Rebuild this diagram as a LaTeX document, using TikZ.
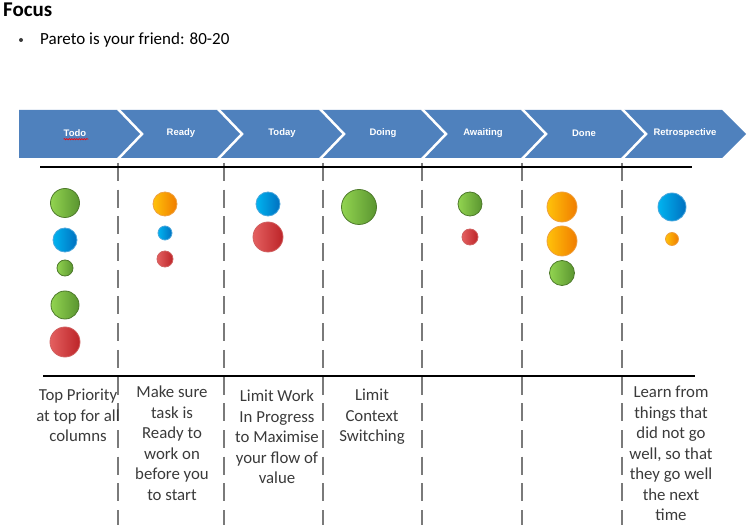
\documentclass[tikz,border=0pt]{standalone}
\usepackage{fontspec}
\setmainfont{Carlito}
\newfontfamily\arialfont{Liberation Sans}
\usetikzlibrary{decorations.pathmorphing}
\definecolor{banner}{HTML}{4F81BD}
\definecolor{sepgray}{HTML}{7A7A7A}
\definecolor{txtgray}{HTML}{3A3A3A}
\definecolor{gl}{HTML}{92D450}
\definecolor{gd}{HTML}{5A9530}
\definecolor{gb}{HTML}{4E7A2B}
\definecolor{bl}{HTML}{00B4F0}
\definecolor{bd}{HTML}{0070C0}
\definecolor{bb}{HTML}{4AA6DC}
\definecolor{rl}{HTML}{E46060}
\definecolor{rd}{HTML}{BC2428}
\definecolor{rb}{HTML}{D06060}
\definecolor{ol}{HTML}{FFC20A}
\definecolor{od}{HTML}{F07C00}
\definecolor{ob}{HTML}{EFA040}
\begin{document}
\begin{tikzpicture}[x=1pt,y=-1pt,
  ballbase/.style={circle,inner sep=0pt,line width=0.8pt},
  gball/.style={ballbase,draw=gb,left color=gl,right color=gd},
  bball/.style={ballbase,draw=bb,left color=bl,right color=bd},
  rball/.style={ballbase,draw=rb,left color=rl,right color=rd},
  oball/.style={ballbase,draw=ob,left color=ol,right color=od},
  stagelabel/.style={text=white,font=\arialfont\bfseries\fontsize{9.5}{11}\selectfont,inner sep=0pt},
  sepline/.style={draw=sepgray,line width=2.5pt,dash pattern=on 18pt off 8.7pt},
  rule/.style={draw=black,line width=2.2pt},
  note/.style={text=txtgray,align=center,inner sep=0pt,anchor=north,font=\fontsize{16.8}{20.5}\selectfont},
  chevsep/.style={draw=white,line width=2.5pt}
]
\useasboundingbox (0,0) rectangle (750,529);
% title
\node[anchor=base west,inner sep=0pt,font=\bfseries\fontsize{21}{24}\selectfont] (title) at (3,17) {Focus};
\node[circle,fill=txtgray,inner sep=0pt,minimum size=4pt] (bullet) at (21,40) {};
\node[anchor=base west,inner sep=0pt,font=\fontsize{17}{20}\selectfont] (pareto) at (40,45) {Pareto is your friend: 80-20};
% banner
\fill[banner] (19,110) -- (722,110) -- (746,134) -- (722,158) -- (19,158) -- cycle;
\foreach \b in {118,218,320,422,522,622}{
  \draw[chevsep] (\b,109) -- (\b+24,134) -- (\b,159);
}
\node[stagelabel] (s1) at (75,133) {Todo};
\node[stagelabel] (s2) at (181,133) {Ready};
\node[stagelabel] (s3) at (282,133) {Today};
\node[stagelabel] (s4) at (383,133) {Doing};
\node[stagelabel] (s5) at (483,133) {Awaiting};
\node[stagelabel] (s6) at (584,133) {Done};
\node[stagelabel] (s7) at (685,133) {Retrospective};
\draw[red,line width=0.6pt,decorate,decoration={snake,segment length=2.5pt,amplitude=0.7pt}] (s1.south west)++(0,2.5) -- ++(25,0);
% column separators
\foreach \x in {118,224,323,422,522,622}{
  \draw[sepline] (\x,163) -- (\x,525);
}
% rules
\draw[rule] (40,167) -- (692,167);
\draw[rule] (43,376) -- (695,376);
% Todo
\node[gball,minimum size=29pt] (t1) at (65,203) {};
\node[bball,minimum size=24pt] (t2) at (65,240) {};
\node[gball,minimum size=16pt] (t3) at (65,268) {};
\node[gball,minimum size=28pt] (t4) at (65,305) {};
\node[rball,minimum size=30pt] (t5) at (65,342) {};
% Ready
\node[oball,minimum size=24pt] (r1) at (165,204) {};
\node[bball,minimum size=14pt] (r2) at (165,233) {};
\node[rball,minimum size=16pt] (r3) at (165,259) {};
% Today
\node[bball,minimum size=24pt] (d1) at (268,204) {};
\node[rball,minimum size=30pt] (d2) at (268,237) {};
% Doing
\node[gball,minimum size=35pt] (g1) at (359,207) {};
% Awaiting
\node[gball,minimum size=24pt] (a1) at (470,204) {};
\node[rball,minimum size=16pt] (a2) at (470,237) {};
% Done
\node[oball,minimum size=30pt] (n1) at (562,207) {};
\node[oball,minimum size=30pt] (n2) at (562,241) {};
\node[gball,minimum size=25pt] (n3) at (562,273) {};
% Retrospective
\node[bball,minimum size=28pt] (p1) at (672,207) {};
\node[oball,minimum size=13pt] (p2) at (672,239) {};
% notes
\node[note] (m1) at (78,389) {Top Priority\\at top for all\\columns};
\node[note] (m2) at (172,386) {Make sure\\task is\\Ready to\\work on\\before you\\to start};
\node[note] (m3) at (277,390) {Limit Work\\In Progress\\to Maximise\\your flow of\\value};
\node[note] (m4) at (372,389) {Limit\\Context\\Switching};
\node[note] (m7) at (671,386) {Learn from\\things that\\did not go\\well, so that\\they go well\\the next\\time};
\end{tikzpicture}
\end{document}
